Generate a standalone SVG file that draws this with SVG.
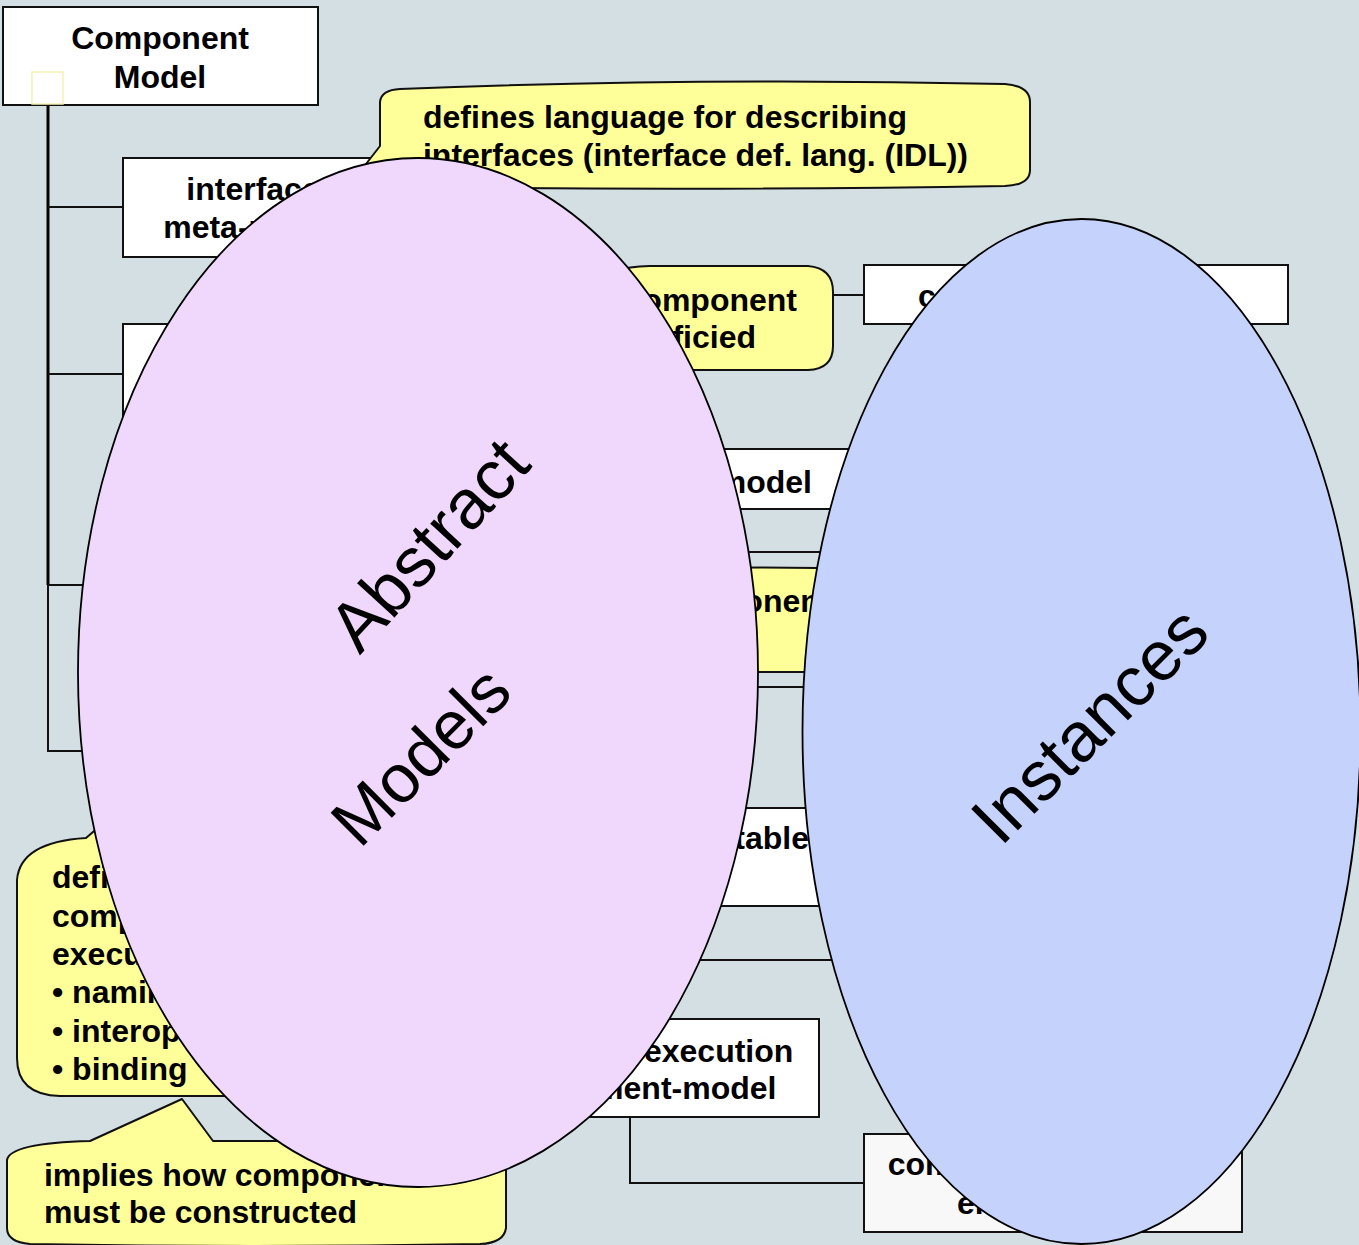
<svg xmlns="http://www.w3.org/2000/svg" width="1359" height="1245" viewBox="0 0 1359 1245">
  <style>
    .box { fill: #ffffff; stroke: #111; stroke-width: 2; }
    .box-soft { fill: #f8f8f8; stroke: #111; stroke-width: 2; }
    .note { fill: #ffff99; stroke: #111; stroke-width: 2; stroke-linejoin: round; }
    .lbl { font-family: "Liberation Sans", Arial, sans-serif; font-weight: bold; font-size: 32px; fill: #000; }
    .mid { text-anchor: middle; }
    .end { text-anchor: end; }
    .wire { fill: none; stroke: #111; stroke-width: 2; }
    .trunk { fill: none; stroke: #000; stroke-width: 3; }
    .big { font-family: "Liberation Sans", Arial, sans-serif; font-weight: normal; fill: #000; text-anchor: middle; }
    .blob { stroke: #000; stroke-width: 1.8; }
  </style>

  <!-- backdrop -->
  <rect x="0" y="0" width="1359" height="1245" fill="#d4dfe3"/>

  <!-- connectors -->
  <g id="connectors">
    <path class="trunk" d="M48,105 L48,585"/>
    <path class="wire" d="M48,585 L48,751 L110,751"/>
    <path class="wire" d="M48,585 L110,585"/>
    <path class="wire" d="M48,207 L123,207"/>
    <path class="wire" d="M48,374 L123,374"/>
    <path class="wire" d="M833,295 L864,295"/>
    <path class="wire" d="M700,552 L860,552"/>
    <path class="wire" d="M700,687 L860,687"/>
    <path class="wire" d="M640,960 L900,960"/>
    <path class="wire" d="M630,1117 L630,1183 L864,1183"/>
  </g>

  <!-- root node -->
  <g id="node-component-model">
    <rect class="box" x="3" y="7" width="315" height="98"/>
    <rect x="32" y="72" width="31" height="32" fill="none" stroke="#f2f2b4" stroke-width="1.5"/>
    <text class="lbl mid" x="160" y="49">Component</text>
    <text class="lbl mid" x="160" y="88">Model</text>
  </g>

  <g id="node-interface-meta-model">
    <rect class="box" x="123" y="158" width="260" height="99"/>
    <text class="lbl mid" x="253" y="200">interface</text>
    <text class="lbl mid" x="253" y="238">meta-model</text>
  </g>

  <g id="node-second-child">
    <rect class="box" x="123" y="324" width="260" height="100"/>
  </g>

  <g id="note-idl">
    <path class="note" d="M380,102 Q381,90 400,89 Q700,77 1005,84 Q1030,86 1030,102 L1030,170 Q1030,185 1005,186 Q700,191 420,187 L400,187 L352,182 L380,146 Z"/>
    <text class="lbl" x="423" y="128" textLength="484" lengthAdjust="spacing">defines language for describing</text>
    <text class="lbl" x="423" y="166" textLength="545" lengthAdjust="spacing">interfaces (interface def. lang. (IDL))</text>
  </g>

  <g id="note-component-spec">
    <path class="note" d="M600,285 Q606,267 650,266 L808,266 Q833,268 833,292 L833,346 Q833,369 808,370 L660,370 Q610,370 600,356 Z"/>
    <text class="lbl end" x="797" y="311">component</text>
    <text class="lbl end" x="756" y="348">ficied</text>
  </g>

  <g id="node-top-right">
    <rect class="box" x="864" y="265" width="424" height="59"/>
    <text class="lbl" x="918" y="307">component</text>
  </g>

  <g id="node-model">
    <rect class="box" x="600" y="449" width="320" height="60"/>
    <text class="lbl end" x="812" y="493">model</text>
  </g>

  <g id="note-component">
    <path class="note" d="M640,572 Q700,566 818,568 Q850,570 850,590 L850,652 Q850,672 820,672 L660,672 Q640,672 640,652 Z"/>
    <text class="lbl" x="658" y="612">component</text>
  </g>

  <g id="node-executable">
    <rect class="box" x="560" y="808" width="330" height="98"/>
    <text class="lbl end" x="809" y="849">executable</text>
  </g>

  <g id="node-execution-env-model">
    <rect class="box" x="457" y="1019" width="362" height="98"/>
    <text class="lbl mid" x="628" y="1062">component execution</text>
    <text class="lbl mid" x="628" y="1099">environment-model</text>
  </g>

  <g id="node-execution-env">
    <rect class="box-soft" x="864" y="1134" width="378" height="98"/>
    <text class="lbl mid" x="1053" y="1175">component execution</text>
    <text class="lbl mid" x="1053" y="1214">environment</text>
  </g>

  <g id="note-execution">
    <path class="note" d="M17,880 Q20,842 86,838 L100,826 L130,836 L400,838 L400,1096 L60,1096 Q17,1095 17,1058 Z"/>
    <text class="lbl" x="52" y="888">defines</text>
    <text class="lbl" x="52" y="927">component</text>
    <text class="lbl" x="52" y="965">execution</text>
    <text class="lbl" x="52" y="1003">• naming</text>
    <text class="lbl" x="52" y="1042">• interoperability</text>
    <text class="lbl" x="52" y="1080">• binding</text>
  </g>

  <g id="note-construction">
    <path class="note" d="M7,1160 Q10,1143 90,1141 L182,1099 L213,1141 L482,1141 Q506,1144 506,1168 L506,1228 Q504,1243 480,1244 Q250,1248 30,1244 Q7,1242 7,1228 Z"/>
    <text class="lbl" x="44" y="1186" textLength="380" lengthAdjust="spacing">implies how components</text>
    <text class="lbl" x="44" y="1223" textLength="313" lengthAdjust="spacing">must be constructed</text>
  </g>

  <!-- overlay groupings -->
  <g id="group-abstract-models">
    <ellipse class="blob" cx="418" cy="672.5" rx="340" ry="514.5" fill="#f0d8fc"/>
    <g transform="translate(428,544) rotate(-47.5)">
      <text class="big" x="0" y="25" font-size="70">Abstract</text>
    </g>
    <g transform="translate(420,755) rotate(-45)">
      <text class="big" x="0" y="24.3" font-size="68">Models</text>
    </g>
  </g>

  <g id="group-instances">
    <ellipse class="blob" cx="1081.5" cy="731.5" rx="279" ry="512.5" fill="#c4d2fc"/>
    <g transform="translate(1089,724) rotate(-45)">
      <text class="big" x="0" y="25" font-size="70">Instances</text>
    </g>
  </g>
</svg>
